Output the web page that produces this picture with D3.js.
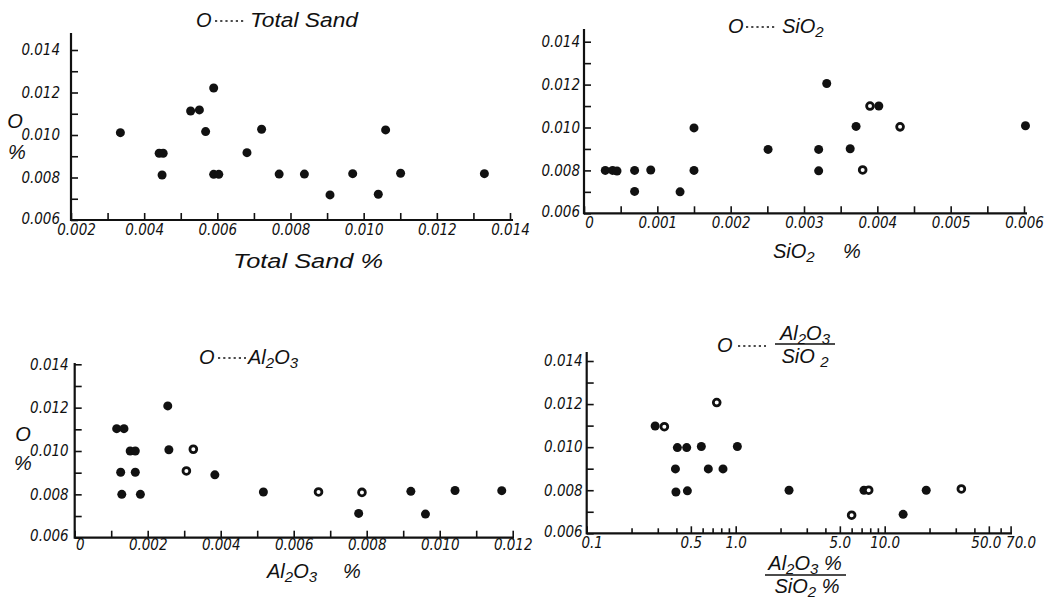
<!DOCTYPE html>
<html><head><meta charset="utf-8">
<script src="https://cdn.jsdelivr.net/npm/d3@7"></script>
<style>
body{margin:0;background:#fff}
text{font-family:"Liberation Sans Narrow","DejaVu Sans Condensed","Liberation Sans",sans-serif;font-style:italic;fill:#111}
.tk text{font-size:15px;font-family:"Liberation Sans Narrow","DejaVu Sans Condensed",sans-serif}
.ttl{font-family:"Liberation Sans","DejaVu Sans",sans-serif;font-size:20px}
</style></head>
<body><svg id="c" width="1053" height="599"></svg>
<script>
// ---------- DATA ----------
const yTickVals = [0.006,0.007,0.008,0.009,0.010,0.011,0.012,0.013,0.014];
const yLabelVals = [0.006,0.008,0.010,0.012,0.014];

// Panel 1: O vs Total Sand
const sandX = [0.00335,0.00441,0.00452,0.00449,0.00527,0.00551,0.00590,0.00568,0.00590,0.00604,0.00681,0.00721,0.00769,0.00838,0.00908,0.00970,0.01040,0.01060,0.01101,0.01330];
const sandY = [0.01011,0.00914,0.00914,0.00812,0.01113,0.01118,0.01221,0.01016,0.00815,0.00815,0.00917,0.01027,0.00816,0.00816,0.00718,0.00818,0.00721,0.01024,0.00820,0.00818];
const sandOpen = [0,0,0,0,0,0,0,0,0,0,0,0,0,0,0,0,0,0,0,0];
const sandTicks = [0.002,0.003,0.004,0.005,0.006,0.007,0.008,0.009,0.010,0.011,0.012,0.013,0.014];
const sandLabels = [0.002,0.004,0.006,0.008,0.010,0.012,0.014];

// Panel 2: O vs SiO2
const siX = [0.00029,0.00039,0.00045,0.00069,0.00069,0.00091,0.00131,0.00150,0.00150,0.00251,0.00320,0.00320,0.00331,0.00363,0.00371,0.00390,0.00402,0.00431,0.00380,0.00602];
const siY = [0.00800,0.00800,0.00797,0.00800,0.00702,0.00802,0.00700,0.00998,0.00800,0.00898,0.00898,0.00798,0.01205,0.00901,0.01005,0.01100,0.01100,0.01003,0.00802,0.01008];
const siOpen = [0,0,0,0,0,0,0,0,0,0,0,0,0,0,0,1,0,1,1,0];
const siTicks = [0,0.0005,0.001,0.0015,0.002,0.0025,0.003,0.0035,0.004,0.0045,0.005,0.0055,0.006];
const siLabels = [0,0.001,0.002,0.003,0.004,0.005,0.006];

// Panel 3: O vs Al2O3
const alX = [0.00115,0.00135,0.00152,0.00166,0.00126,0.00166,0.00129,0.00180,0.00255,0.00258,0.00325,0.00306,0.00384,0.00517,0.00668,0.00787,0.00778,0.00921,0.00961,0.01042,0.01170];
const alY = [0.01103,0.01103,0.01000,0.01000,0.00902,0.00902,0.00800,0.00800,0.01208,0.01006,0.01008,0.00908,0.00890,0.00811,0.00811,0.00809,0.00712,0.00814,0.00709,0.00818,0.00817];
const alOpen = [0,0,0,0,0,0,0,0,0,0,1,1,0,0,1,1,0,0,0,0,0];
const alTicks = [0,0.001,0.002,0.003,0.004,0.005,0.006,0.007,0.008,0.009,0.010,0.011,0.012];
const alLabels = [0,0.002,0.004,0.006,0.008,0.010,0.012];

// Panel 4: O vs Al2O3/SiO2 (log)
const rX = [0.288,0.332,0.406,0.469,0.588,1.026,0.394,0.655,0.822,0.746,0.397,0.474,2.28,6.0,7.26,7.81,13.3,19.0,32.7];
const rY = [0.01098,0.01095,0.00998,0.00998,0.01003,0.01003,0.00899,0.00899,0.00899,0.01207,0.00792,0.00797,0.00800,0.00684,0.00800,0.00800,0.00688,0.00800,0.00806];
const rOpen = [0,1,0,0,0,0,0,0,0,1,0,0,0,1,0,1,0,0,1];
const rTicks = [0.1,0.2,0.3,0.4,0.5,0.6,0.7,0.8,0.9,1,2,3,4,5,6,7,8,9,10,20,30,40,50,60,70];
const rLabels = [0.1,0.5,1,5,10,50,70];
const rLabelText = {"0.1":"0.1","0.5":"0.5","1":"1.0","5":"5.0","10":"10.0","50":"50.0","70":"70.0"};

// ---------- DRAW ----------
const svg = d3.select("#c");
const fmt3 = d3.format(".3f");

function panel(o){
  const g = svg.append("g");
  const x = o.log ? d3.scaleLog().domain(o.xd).range(o.xr) : d3.scaleLinear().domain(o.xd).range(o.xr);
  const y = d3.scaleLinear().domain([0.006,0.014]).range(o.yr);
  g.append("line").attr("x1",o.xr[0]).attr("x2",o.xEnd).attr("y1",o.yr[0]).attr("y2",o.yr[0])
    .attr("stroke","#111").attr("stroke-width",2.2);
  g.append("line").attr("x1",o.xr[0]).attr("x2",o.xr[0]).attr("y1",o.yr[0]+1).attr("y2",o.yTop)
    .attr("stroke","#111").attr("stroke-width",2.2);
  const isLab = v => o.xl.some(l => Math.abs(l-v) < 1e-9);
  const xa = d3.axisBottom(x).tickValues(o.xt).tickSizeInner(-7).tickSizeOuter(0).tickPadding(o.xpad)
    .tickFormat(v => isLab(v) ? o.xf(v) : "");
  const gx = g.append("g").attr("class","tk").attr("transform",`translate(0,${o.yr[0]})`).call(xa);
  gx.attr("font-size",null).attr("font-family",null);
  gx.select(".domain").remove();
  gx.selectAll(".tick line").attr("stroke","#111").attr("stroke-width",1.6)
    .attr("y2", d => (o.log && !isLab(d)) ? -5 : -7);
  gx.selectAll(".tick text").attr("dx", d => d===o.xd[0] ? 5 : (o.log && d===70 ? 10 : (o.log && d===50 ? -3 : 0)));
  const ya = d3.axisLeft(y).tickValues(yTickVals).tickSizeInner(-7).tickSizeOuter(0).tickPadding(o.ypad)
    .tickFormat(v => yLabelVals.some(l=>Math.abs(l-v)<1e-9) ? fmt3(v) : "");
  const gy = g.append("g").attr("class","tk").attr("transform",`translate(${o.xr[0]},0)`).call(ya);
  gy.attr("font-size",null).attr("font-family",null);
  gy.select(".domain").remove();
  gy.selectAll(".tick line").attr("stroke","#111").attr("stroke-width",1.6);
  gy.selectAll(".tick text").attr("dy", d => d===0.006 ? "0.2em" : "0.32em");
  g.selectAll("circle.pt").data(o.xs.map((v,i)=>({x:v,y:o.ys[i],op:o.op[i]}))).join("circle")
    .attr("class","pt").attr("cx",d=>x(d.x)).attr("cy",d=>y(d.y))
    .attr("r", d => d.op ? 3.4 : 4.5)
    .attr("fill", d => d.op ? "#fff" : "#111")
    .attr("stroke","#111").attr("stroke-width", d => d.op ? 2.8 : 0);
  return g;
}

function txt(x,y,s,opts={}){
  const t = svg.append("text").attr("x",x).attr("y",y).attr("class",opts.cls||"ttl");
  if(opts.anchor) t.attr("text-anchor",opts.anchor);
  if(opts.size) t.style("font-size",opts.size+"px");
  if(opts.len) t.attr("textLength",opts.len).attr("lengthAdjust","spacingAndGlyphs");
  return t;
}
function chem(t, parts){
  parts.forEach(([s,sub],i)=>{
    const ts = t.append("tspan").text(s);
    if(sub) ts.attr("dy",4).style("font-size","0.75em");
    else if(i>0 && parts[i-1][1]) ts.attr("dy",-4);
  });
  return t;
}
function dots(x1,x2,y){
  svg.append("line").attr("x1",x1).attr("x2",x2).attr("y1",y).attr("y2",y)
    .attr("stroke","#111").attr("stroke-width",1.6).attr("stroke-dasharray","2.2,3");
}

// Panel 1
panel({xd:[0.002,0.014], xr:[71,510], xEnd:513, yr:[220,50], yTop:33,
  xt:sandTicks, xl:sandLabels, xf:fmt3, xs:sandX, ys:sandY, op:sandOpen, xpad:4, ypad:11});
txt(196,27,"").text("O");
dots(215,246,21);
txt(250,27,"",{len:108}).text("Total Sand");
txt(233,268,"",{len:150}).text("Total  Sand  %");
txt(15,128,"",{anchor:"middle"}).text("O");
txt(17,159,"",{anchor:"middle",size:20}).text("%");

// Panel 2
panel({xd:[0,0.006], xr:[584,1024], xEnd:1027, yr:[213.3,41.7], yTop:29,
  xt:siTicks, xl:siLabels, xf:v=>v===0?"0":fmt3(v), xs:siX, ys:siY, op:siOpen, xpad:4, ypad:4});
txt(728,33,"").text("O");
dots(746,777,27);
chem(txt(782,33,""),[["SiO",0],["2",1]]);
chem(txt(773,258,""),[["SiO",0],["2",1]]);
txt(843,258,"",{size:20}).text("%");

// Panel 3
panel({xd:[0,0.012], xr:[74.7,512.7], xEnd:514, yr:[537.7,364.3], yTop:363,
  xt:alTicks, xl:alLabels, xf:v=>v===0?"0":fmt3(v), xs:alX, ys:alY, op:alOpen, xpad:2, ypad:6});
txt(199,364,"").text("O");
dots(218,246,358);
chem(txt(248,364,""),[["Al",0],["2",1],["O",0],["3",1]]);
chem(txt(267,578,""),[["Al",0],["2",1],["O",0],["3",1]]);
txt(343,578,"",{size:20}).text("%");
txt(23,441,"",{anchor:"middle"}).text("O");
txt(23,470,"",{anchor:"middle",size:20}).text("%");

// Panel 4
panel({xd:[0.1,70], xr:[586.7,1010.6], xEnd:1012, yr:[533.3,361], yTop:352, log:true,
  xt:rTicks, xl:rLabels, xf:v=>rLabelText[String(v)], xs:rX, ys:rY, op:rOpen, xpad:4, ypad:4});
txt(717,352,"").text("O");
dots(738,766,346);
chem(txt(805,340,"",{anchor:"middle"}),[["Al",0],["2",1],["O",0],["3",1]]);
svg.append("line").attr("x1",775).attr("x2",835).attr("y1",344).attr("y2",344).attr("stroke","#111").attr("stroke-width",1.5);
chem(txt(805,363,"",{anchor:"middle"}),[["SiO ",0],["2",1]]);
chem(txt(805,570,"",{anchor:"middle"}),[["Al",0],["2",1],["O",0],["3",1],[" %",0]]);
svg.append("line").attr("x1",765).attr("x2",846).attr("y1",575).attr("y2",575).attr("stroke","#111").attr("stroke-width",1.5);
chem(txt(807,593,"",{anchor:"middle"}),[["SiO",0],["2",1],[" %",0]]);
</script>
</body></html>
